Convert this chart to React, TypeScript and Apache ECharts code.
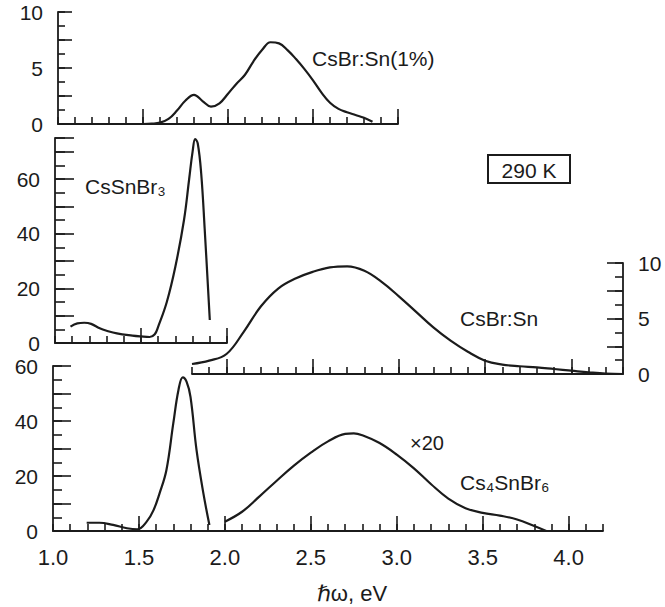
import React, { useEffect, useRef } from "react";
import * as echarts from "echarts";

// ---- data ----
// Panel 1: CsBr:Sn(1%)
const topE = [1.5, 1.55, 1.6, 1.65, 1.7, 1.75, 1.8, 1.85, 1.9, 1.95, 2.0, 2.05, 2.1, 2.15, 2.2, 2.25, 2.3, 2.35, 2.4, 2.45, 2.5, 2.55, 2.6, 2.65, 2.7, 2.75, 2.8, 2.85];
const topI = [0, 0.03, 0.12, 0.45, 1.2, 2.1, 2.6, 2.05, 1.55, 1.85, 2.7, 3.6, 4.4, 5.6, 6.6, 7.3, 7.2, 6.6, 5.8, 4.9, 3.9, 2.8, 1.9, 1.35, 1.05, 0.8, 0.55, 0.2];
// Panel 2: CsSnBr3
const cssE = [1.09, 1.13, 1.17, 1.21, 1.26, 1.3, 1.36, 1.45, 1.5, 1.55, 1.58, 1.6, 1.65, 1.7, 1.75, 1.78, 1.8, 1.815, 1.83, 1.85, 1.87, 1.9];
const cssI = [6.0, 7.2, 7.4, 7.0, 5.4, 4.5, 3.5, 2.7, 2.4, 2.2, 3.2, 6.0, 15, 28, 45, 60, 70, 74.6, 73, 62, 42, 8.4];
// Panel 3: CsBr:Sn
const snE = [1.8, 1.9, 2.0, 2.1, 2.2, 2.3, 2.4, 2.5, 2.6, 2.7, 2.8, 2.9, 3.0, 3.1, 3.2, 3.3, 3.4, 3.5, 3.6, 3.7, 3.8, 3.9, 4.0, 4.1, 4.2, 4.3];
const snI = [0.9, 1.2, 1.8, 3.8, 6.1, 7.7, 8.6, 9.2, 9.6, 9.7, 9.3, 8.3, 7.0, 5.6, 4.2, 3.0, 2.0, 1.2, 0.85, 0.7, 0.6, 0.45, 0.3, 0.15, 0.03, 0];
// Panel 4: Cs4SnBr6 (low-energy band and x20 band)
const c4E1 = [1.196, 1.27, 1.35, 1.43, 1.49, 1.545, 1.585, 1.62, 1.66, 1.7, 1.73, 1.755, 1.777, 1.8, 1.835, 1.875, 1.91];
const c4I1 = [3.0, 3.0, 2.2, 1.0, 0.6, 3.4, 7.6, 13.7, 22.2, 39.2, 51.3, 55.9, 54.3, 48.8, 29.5, 13.7, 2.2];
const c4E2 = [2.0, 2.1, 2.2, 2.3, 2.4, 2.5, 2.6, 2.7, 2.75, 2.8, 2.9, 3.0, 3.1, 3.2, 3.3, 3.4, 3.5, 3.6, 3.7, 3.8, 3.87];
const c4I2 = [3.4, 7.0, 12.5, 18.2, 23.7, 28.5, 32.6, 35.3, 35.5, 34.8, 32.0, 27.8, 22.8, 17.0, 11.8, 8.3, 6.6, 5.6, 4.2, 1.8, 0];

// ---- tick values ----
const xMajorTop = [1.5, 2.0, 2.5, 3.0];
const xMajorMidL = [1.5, 2.0];
const xMajorMidR = [2.0, 2.5, 3.0, 3.5, 4.0];
const xMajorBot = [1.5, 2.0, 2.5, 3.0, 3.5, 4.0];
const xLabelsBot = [1.0, 1.5, 2.0, 2.5, 3.0, 3.5, 4.0];
const yMajorTop = [2.5, 5, 7.5, 10];
const yLabelsTop = [0, 5, 10];
const yMajorMidL = [10, 20, 30, 40, 50, 60, 70, 75];
const yLabelsMidL = [0, 20, 40, 60];
const yMajorMidR = [2.5, 5, 7.5, 10];
const yLabelsMidR = [0, 5, 10];
const yMajorBot = [10, 20, 30, 40, 50, 60];
const yLabelsBot = [0, 20, 40, 60];

const FONT = '"Liberation Sans", Arial, "DejaVu Sans", sans-serif';
const INK = "#1b1b1b";

const zip = (a: number[], b: number[]) => a.map((v, i) => [v, b[i]]);

function xPair(grid: number, min: number, max: number, majors: number[], labels?: number[]) {
  const tickStyle = { color: INK, width: 1.6 };
  return [
    {
      type: "value", gridIndex: grid, position: "bottom", min, max, interval: 0.1,
      axisLine: { show: true, onZero: false, lineStyle: { color: INK, width: 1.8 } },
      axisTick: { show: true, inside: true, length: 7, lineStyle: tickStyle },
      axisLabel: { show: false }, splitLine: { show: false },
    },
    {
      type: "value", gridIndex: grid, position: "bottom", min, max, interval: 0.1,
      axisLine: { show: false, onZero: false },
      axisTick: { show: true, inside: true, length: 15, customValues: majors, lineStyle: tickStyle },
      axisLabel: labels
        ? {
            show: true, customValues: labels, fontSize: 22, fontFamily: FONT, color: INK, margin: 15,
            formatter: (v: number) => v.toFixed(1),
          }
        : { show: false },
      splitLine: { show: false },
    },
  ];
}

function yPair(grid: number, max: number, minorStep: number, majors: number[], labels: number[], pos: string, longLen: number) {
  const tickStyle = { color: INK, width: 1.6 };
  return [
    {
      type: "value", gridIndex: grid, position: pos, min: 0, max, interval: minorStep,
      axisLine: { show: true, onZero: false, lineStyle: { color: INK, width: 1.8 } },
      axisTick: { show: true, inside: true, length: Math.round(longLen / 2), lineStyle: tickStyle },
      axisLabel: { show: false }, splitLine: { show: false },
    },
    {
      type: "value", gridIndex: grid, position: pos, min: 0, max, interval: minorStep,
      axisLine: { show: false, onZero: false },
      axisTick: { show: true, inside: true, length: longLen, customValues: majors, lineStyle: tickStyle },
      axisLabel: {
        show: true, customValues: labels, fontSize: 21, fontFamily: FONT, color: INK, margin: 15,
        formatter: (v: number) => String(v),
      },
      splitLine: { show: false },
    },
  ];
}

const line = (xi: number, data: number[][]) => ({
  type: "line", xAxisIndex: xi, yAxisIndex: xi, data, showSymbol: false, smooth: 0.4,
  lineStyle: { color: INK, width: 2.2 }, silent: true,
});

const txt = (x: number, y: number, text: string, size: number, align = "left", extra: any = {}) => ({
  type: "text", x, y, silent: true,
  style: { text, fontSize: size, fontFamily: FONT, fill: INK, textAlign: align, textVerticalAlign: "middle", ...extra },
});

export default function App() {
  const ref = useRef<HTMLDivElement>(null);
  useEffect(() => {
    if (!ref.current) return;
    const chart = echarts.init(ref.current, null, { renderer: "svg" });
    const gridBase = { containLabel: false, outerBoundsMode: "none", show: false };
    chart.setOption({
      animation: false,
      backgroundColor: "#ffffff",
      grid: [
        { ...gridBase, left: 58, top: 12, width: 340, height: 112 },
        { ...gridBase, left: 55, top: 138, width: 172, height: 205 },
        { ...gridBase, left: 192, top: 263, width: 431, height: 111 },
        { ...gridBase, left: 53, top: 366, width: 550, height: 165 },
      ],
      xAxis: [
        ...xPair(0, 1.0, 3.0, xMajorTop),
        ...xPair(1, 1.0, 2.0, xMajorMidL),
        ...xPair(2, 1.8, 4.3, xMajorMidR),
        ...xPair(3, 1.0, 4.2, xMajorBot, xLabelsBot),
      ],
      yAxis: [
        ...yPair(0, 10, 1.25, yMajorTop, yLabelsTop, "left", 14),
        ...yPair(1, 75, 5, yMajorMidL, yLabelsMidL, "left", 19),
        ...yPair(2, 10, 1.25, yMajorMidR, yLabelsMidR, "right", 16),
        ...yPair(3, 60, 5, yMajorBot, yLabelsBot, "left", 18),
      ],
      series: [
        line(0, zip(topE, topI)),
        line(2, zip(cssE, cssI)),
        line(4, zip(snE, snI)),
        line(6, zip(c4E1, c4I1)),
        line(6, zip(c4E2, c4I2)),
      ],
      graphic: [
        txt(312, 58, "CsBr:Sn(1%)", 21),
        txt(85, 186, "CsSnBr₃", 21),
        {
          type: "rect", silent: true,
          shape: { x: 488, y: 155, width: 82, height: 28 },
          style: { fill: "none", stroke: INK, lineWidth: 2 },
        },
        txt(529, 170, "290 K", 21, "center"),
        txt(460, 318, "CsBr:Sn", 21),
        txt(427, 443, "×20", 20, "center"),
        txt(460, 482, "Cs₄SnBr₆", 21),
        txt(352, 593, "ℏω, eV", 22, "center"),
      ],
    });
    return () => chart.dispose();
  }, []);
  return (
    <div
      ref={ref}
      style={{ position: "absolute", left: 0, top: 0, width: 665, height: 607, background: "#fff" }}
    />
  );
}
